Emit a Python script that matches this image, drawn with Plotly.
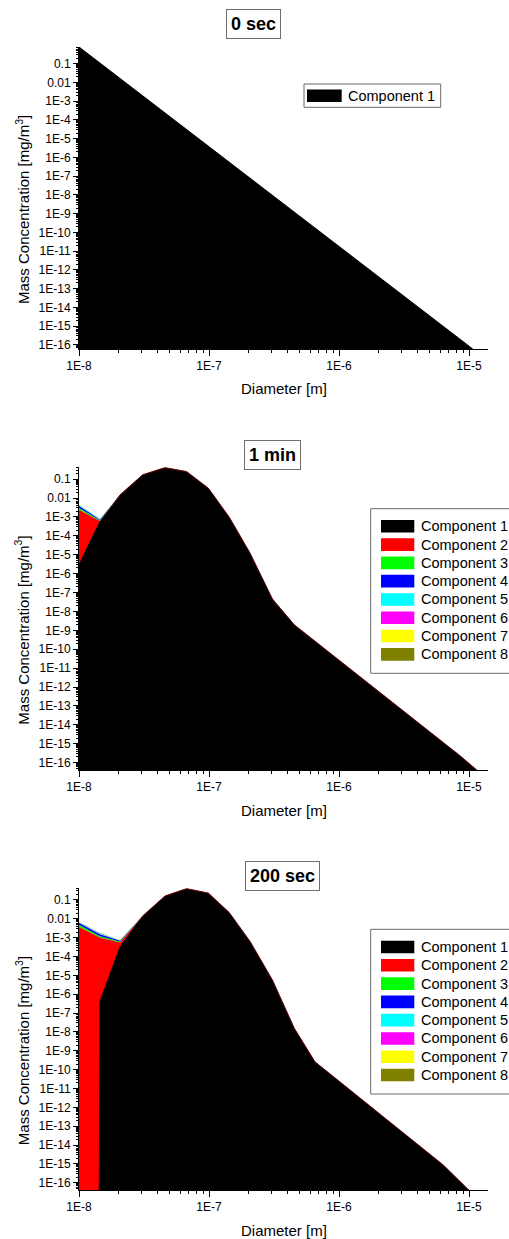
import plotly.graph_objects as go

# ---------------- data ----------------
COMPONENTS = ["Component 1", "Component 2", "Component 3", "Component 4",
              "Component 5", "Component 6", "Component 7", "Component 8"]
COLORS = ["#000000", "#ff0000", "#00ff00", "#0000ff",
          "#00ffff", "#ff00ff", "#ffff00", "#808000"]
PANEL_TITLES = ["0 sec", "1 min", "200 sec"]

X_TICK_VALS = [1e-8, 1e-7, 1e-6, 1e-5]
X_TICK_TEXT = ["1E-8", "1E-7", "1E-6", "1E-5"]
Y_TICK_VALS = [1e-1, 1e-2, 1e-3, 1e-4, 1e-5, 1e-6, 1e-7, 1e-8, 1e-9, 1e-10,
               1e-11, 1e-12, 1e-13, 1e-14, 1e-15, 1e-16]
Y_TICK_TEXT = ["0.1", "0.01", "1E-3", "1E-4", "1E-5", "1E-6", "1E-7", "1E-8",
               "1E-9", "1E-10", "1E-11", "1E-12", "1E-13", "1E-14", "1E-15", "1E-16"]

# Panel 1 : 0 sec (only component 1)
d_0s = [1.0e-8, 1.07e-5]
c1_0s = [0.78, 6.0e-17]

# Panel 2 : 1 min
d_1min = [1.00e-8, 1.45e-8, 2.07e-8, 3.09e-8, 4.59e-8, 6.73e-8, 9.89e-8,
          1.43e-7, 2.07e-7, 3.07e-7, 4.53e-7, 8.53e-6, 1.15e-5]
c1_1min = [2.9e-6, 5.75e-4, 1.48e-2, 0.170, 0.407, 0.251, 3.31e-2,
           9.8e-4, 1.2e-5, 4.6e-8, 1.95e-9, 2.3e-16, 4.0e-17]
c2_1min = [2.34e-3, 4.2e-5, 1.5e-4, 1.7e-3, 4.0e-3, 2.5e-3, 3.3e-4,
           1.0e-5, 1.2e-7, 4.6e-10, 2.0e-11, 2.3e-18, 4.0e-19]
c3_1min = [6.8e-4, 5.9e-5, 6.0e-5, 3.0e-4, 7.0e-4, 4.0e-4, 6.0e-5,
           2.0e-6, 2.0e-8, 1.0e-10, 4.0e-12, 5.0e-19, 1.0e-19]
c4_1min = [8.7e-4, 6.5e-5, 5.0e-5, 1.0e-4, 2.0e-4, 1.2e-4, 2.0e-5,
           6.0e-7, 6.0e-9, 3.0e-11, 1.0e-12, 1.0e-19, 2.0e-20]
c5_1min = [3.8e-4, 3.5e-5, 2.0e-5, 5.0e-5, 1.0e-4, 6.0e-5, 1.0e-5,
           3.0e-7, 3.0e-9, 1.0e-11, 5.0e-13, 5.0e-20, 1.0e-20]
c6_1min = [8.0e-5, 7.0e-6, 3.0e-6, 1.0e-5, 2.0e-5, 1.0e-5, 2.0e-6,
           5.0e-8, 5.0e-10, 2.0e-12, 1.0e-13, 1.0e-20, 2.0e-21]
c7_1min = [6.0e-5, 6.0e-6, 2.0e-6, 8.0e-6, 1.5e-5, 8.0e-6, 1.5e-6,
           4.0e-8, 4.0e-10, 1.5e-12, 8.0e-14, 8.0e-21, 1.5e-21]
c8_1min = [6.0e-5, 6.0e-6, 2.0e-6, 8.0e-6, 1.5e-5, 8.0e-6, 1.5e-6,
           4.0e-8, 4.0e-10, 1.5e-12, 8.0e-14, 8.0e-21, 1.5e-21]

# Panel 3 : 200 sec
d_200s = [1.00e-8, 1.45e-8, 2.07e-8, 3.09e-8, 4.59e-8, 6.73e-8, 9.89e-8,
          1.43e-7, 2.07e-7, 3.07e-7, 4.53e-7, 6.53e-7, 6.34e-6, 1.00e-5]
c1_200s = [1e-300, 4.2e-7, 3.3e-4, 1.41e-2, 0.162, 0.398, 0.229,
           2.14e-2, 6.2e-4, 5.75e-6, 1.55e-8, 2.6e-10, 8.7e-16, 4.0e-17]
c2_200s = [3.72e-3, 1.0e-3, 2.2e-4, 2.0e-4, 2.0e-3, 5.0e-3, 3.0e-3,
           3.0e-4, 8.0e-6, 7.0e-8, 2.0e-10, 3.0e-12, 1.0e-17, 5.0e-19]
c3_200s = [1.07e-3, 2.0e-4, 8.0e-5, 4.0e-5, 4.0e-4, 1.0e-3, 6.0e-4,
           6.0e-5, 1.6e-6, 1.4e-8, 4.0e-11, 6.0e-13, 2.0e-18, 1.0e-19]
c4_200s = [1.38e-3, 3.1e-4, 7.7e-5, 2.0e-5, 1.0e-4, 2.0e-4, 1.0e-4,
           1.0e-5, 3.0e-7, 3.0e-9, 1.0e-11, 1.0e-13, 4.0e-19, 2.0e-20]
c5_200s = [5.0e-4, 1.5e-4, 3.0e-5, 1.0e-5, 5.0e-5, 1.0e-4, 5.0e-5,
           5.0e-6, 1.5e-7, 1.5e-9, 5.0e-12, 5.0e-14, 2.0e-19, 1.0e-20]
c6_200s = [1.5e-4, 4.0e-5, 7.0e-6, 2.0e-6, 1.0e-5, 2.0e-5, 1.0e-5,
           1.0e-6, 3.0e-8, 3.0e-10, 1.0e-12, 1.0e-14, 4.0e-20, 2.0e-21]
c7_200s = [1.5e-4, 4.0e-5, 7.0e-6, 2.0e-6, 1.0e-5, 2.0e-5, 1.0e-5,
           1.0e-6, 3.0e-8, 3.0e-10, 1.0e-12, 1.0e-14, 4.0e-20, 2.0e-21]
c8_200s = [1.5e-4, 4.0e-5, 7.0e-6, 2.0e-6, 1.0e-5, 2.0e-5, 1.0e-5,
           1.0e-6, 3.0e-8, 3.0e-10, 1.0e-12, 1.0e-14, 4.0e-20, 2.0e-21]

PANELS = [
    (d_0s, [c1_0s]),
    (d_1min, [c1_1min, c2_1min, c3_1min, c4_1min, c5_1min, c6_1min, c7_1min, c8_1min]),
    (d_200s, [c1_200s, c2_200s, c3_200s, c4_200s, c5_200s, c6_200s, c7_200s, c8_200s]),
]

# ---------------- layout geometry (pixels) ----------------
W, H = 509, 1239
FONT = "Liberation Sans, Arial, Helvetica, sans-serif"
X_LEFT, X_RIGHT = 79, 488
X_RANGE = [-8, -8 + (X_RIGHT - X_LEFT) / 130.0]
PANEL_BOX = [(47, 349), (467.3, 770), (888.3, 1190)]      # (top, bottom) in px
Y_RANGES = [[-16.22, -0.11], [-16.39, -0.37], [-16.38, -0.38]]
TITLE_POS = [(253, 24.5), (272.8, 455), (282, 876)]
LEGEND_BOX = [(304, 84, 440.7, 107.3), (370.7, 508.7, 520, 673.3), (370.7, 929.3, 520, 1094)]
LEGEND_ROW0 = [95.8, 526.3, 947]
LEGEND_SW = [(307, 341.7, 345.7), (381, 414.3, 419), (381, 414.3, 419)]
ROW_STEP = 18.29


def px(x):
    return x / W


def py(y):
    return 1 - y / H


X_MINOR = [m * 10.0 ** e for e in range(-8, -4) for m in range(2, 10)]
Y_MINOR = [m * 10.0 ** e for e in range(-17, 0) for m in range(2, 10)]

fig = go.Figure()
shapes = []
annotations = []

for p, (diam, comps) in enumerate(PANELS):
    sfx = "" if p == 0 else str(p + 1)
    xa, ya = "x" + sfx, "y" + sfx
    cum = [0.0] * len(diam)
    for i, vals in enumerate(comps):
        cum = [a + b for a, b in zip(cum, vals)]
        if i == 0:
            lw, lc = 1, COLORS[0]
        elif i == 1:
            lw, lc = 0.4, COLORS[1]
        else:
            lw, lc = 0, COLORS[i]
        fig.add_trace(go.Scatter(
            x=diam, y=list(cum), mode="lines", name=COMPONENTS[i],
            line=dict(color=lc, width=lw), fillcolor=COLORS[i],
            fill="tozeroy" if i == 0 else "tonexty",
            xaxis=xa, yaxis=ya, showlegend=False, hoverinfo="x+y+name"))

    top, bot = PANEL_BOX[p]
    fig.layout["xaxis" + sfx] = dict(
        type="log", range=X_RANGE, domain=[px(X_LEFT), px(X_RIGHT)], anchor=ya,
        showline=True, linecolor="black", linewidth=1, mirror=False,
        ticks="outside", ticklen=6, tickwidth=1, tickcolor="black",
        tickmode="array", tickvals=X_TICK_VALS, ticktext=X_TICK_TEXT,
        tickfont=dict(family=FONT, size=12, color="black"),
        minor=dict(tickmode="array", tickvals=X_MINOR, ticks="outside",
                   ticklen=3, tickwidth=1, tickcolor="black", showgrid=False),
        showgrid=False, zeroline=False)
    fig.layout["yaxis" + sfx] = dict(
        type="log", range=Y_RANGES[p], domain=[py(bot), py(top)], anchor=xa,
        showline=True, linecolor="black", linewidth=1, mirror=False,
        ticks="outside", ticklen=5, tickwidth=1, tickcolor="black",
        tickmode="array", tickvals=Y_TICK_VALS, ticktext=Y_TICK_TEXT,
        tickfont=dict(family=FONT, size=12, color="black"),
        minor=dict(tickmode="array", tickvals=Y_MINOR, ticks="outside",
                   ticklen=2.5, tickwidth=1, tickcolor="black", showgrid=False),
        showgrid=False, zeroline=False)

    # panel title (boxed)
    tx, ty = TITLE_POS[p]
    annotations.append(dict(
        x=px(tx), y=py(ty), xref="paper", yref="paper", xanchor="center", yanchor="middle",
        text="<b>%s</b>" % PANEL_TITLES[p], showarrow=False,
        font=dict(family=FONT, size=18, color="black"),
        bordercolor="#707070", borderwidth=1, borderpad=4, bgcolor="white"))
    # axis titles
    annotations.append(dict(
        x=px((X_LEFT + X_RIGHT) / 2), y=py(bot + 40), xref="paper", yref="paper",
        xanchor="center", yanchor="middle", text="Diameter [m]", showarrow=False,
        font=dict(family=FONT, size=15, color="black")))
    annotations.append(dict(
        x=px(22), y=py((top + bot) / 2 + 12), xref="paper", yref="paper",
        xanchor="center", yanchor="middle", textangle=-90,
        text="Mass Concentration [mg/m<sup>3</sup>]", showarrow=False,
        font=dict(family=FONT, size=15, color="black")))

    # legend (box, swatches, labels)
    bx0, by0, bx1, by1 = LEGEND_BOX[p]
    shapes.append(dict(type="rect", xref="paper", yref="paper",
                       x0=px(bx0), x1=px(bx1), y0=py(by1), y1=py(by0),
                       line=dict(color="#6a6a6a", width=1), fillcolor="white", layer="above"))
    sx0, sx1, tx0 = LEGEND_SW[p]
    for i in range(len(comps)):
        cy = LEGEND_ROW0[p] + i * ROW_STEP
        shapes.append(dict(type="rect", xref="paper", yref="paper",
                           x0=px(sx0), x1=px(sx1), y0=py(cy + 6.3), y1=py(cy - 6.3),
                           line=dict(width=0), fillcolor=COLORS[i], layer="above"))
        annotations.append(dict(
            x=px(tx0), y=py(cy), xref="paper", yref="paper", xanchor="left", yanchor="middle",
            text=COMPONENTS[i], showarrow=False,
            font=dict(family=FONT, size=14.5, color="black")))

fig.update_layout(
    width=W, height=H,
    margin=dict(l=0, r=0, t=0, b=0, autoexpand=False),
    paper_bgcolor="white", plot_bgcolor="white",
    showlegend=False, shapes=shapes, annotations=annotations)

fig.write_html(
    "out.html",
    config={"displayModeBar": False},
    post_script="document.body.style.margin='0';document.body.style.padding='0';"
                "document.body.style.overflow='hidden';"
                "document.documentElement.style.overflow='hidden';")
